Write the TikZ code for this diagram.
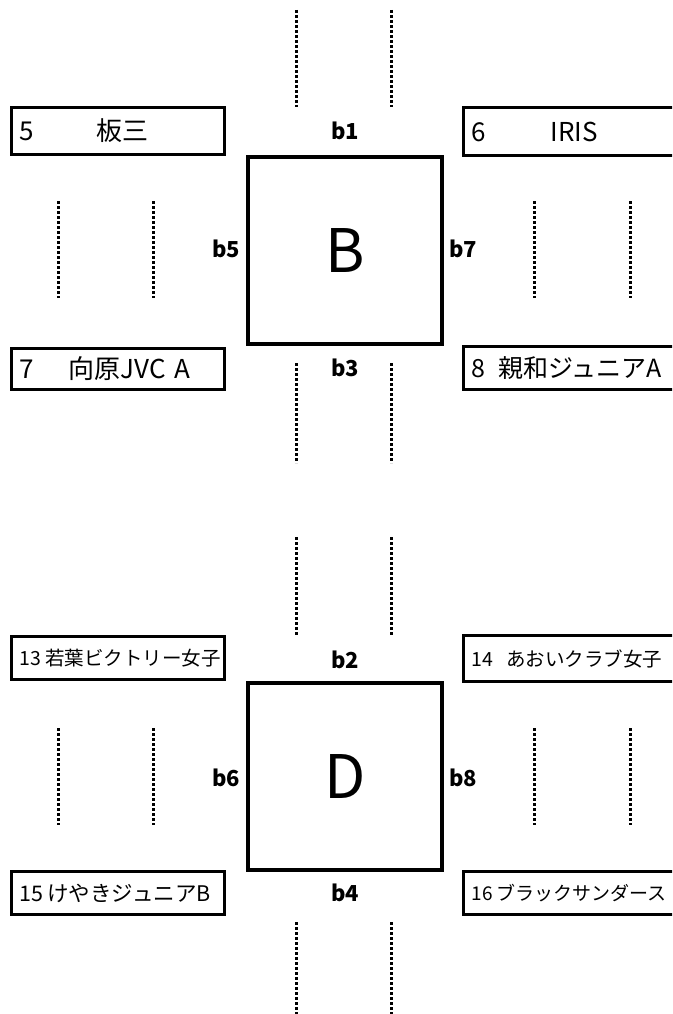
\documentclass[tikz,border=0pt]{standalone}
\usepackage{fontspec}
\setmainfont{Noto Sans CJK JP}
\usepackage{tikz}

\tikzset{
  court/.style={draw, line width=3.5pt, minimum width=194pt, minimum height=187pt,
    inner sep=0pt, font=\fontsize{60}{60}\selectfont},
  team/.style={draw, line width=3pt, anchor=north west, inner xsep=8pt, inner ysep=0pt,
    text width=197pt, align=left},
  side/.style={font=\bfseries\fontsize{22}{22}\selectfont},
  lane/.style={line width=3pt, dash pattern=on 3pt off 2pt},
}

\begin{document}
\begin{tikzpicture}[x=1pt, y=-1pt]
    \useasboundingbox (0,0) rectangle (672,1014);
    \clip (0,0) rectangle (672,1014);
    % Terrain B
    \node[court] (B) at (345,250.5) {B};
    \node[side] (b1) at (345,131) {b1};
    \node[side] (b3) at (345,368) {b3};
    \node[side] (b5) at (226,249) {b5};
    \node[side] (b7) at (463,249) {b7};
    % Equipes B
    \node[team, minimum height=47pt, font=\fontsize{26}{26}\selectfont] (t5) at (10,106) {\makebox[77pt][l]{5}板三};
    \node[team, minimum height=48pt, font=\fontsize{26}{26}\selectfont] (t6) at (462,106) {\makebox[79pt][l]{6}IRIS};
    \node[team, minimum height=41pt, font=\fontsize{26}{26}\selectfont] (t7) at (10,347) {\makebox[49pt][l]{7}向原JVC A};
    \node[team, minimum height=43pt, font=\fontsize{25}{25}\selectfont] (t8) at (462,345) {\makebox[27pt][l]{8}親和ジュニアA};
    % Lignes B
    \draw[lane] (296,10) -- (296,107);
    \draw[lane] (391,10) -- (391,107);
    \draw[lane] (58,201) -- (58,298);
    \draw[lane] (153,201) -- (153,298);
    \draw[lane] (534,201) -- (534,298);
    \draw[lane] (630,201) -- (630,298);
    \draw[lane] (296,363) -- (296,463);
    \draw[lane] (391,363) -- (391,463);
    % Terrain D
    \node[court] (D) at (345,776.5) {D};
    \node[side] (b2) at (345,660) {b2};
    \node[side] (b4) at (345,893) {b4};
    \node[side] (b6) at (226,778) {b6};
    \node[side] (b8) at (463,778) {b8};
    % Equipes D
    \node[team, minimum height=43pt, font=\fontsize{19.5}{20}\selectfont] (t13) at (10,635) {\makebox[26pt][l]{13}若葉ビクトリー女子};
    \node[team, minimum height=46pt, font=\fontsize{19.5}{20}\selectfont] (t14) at (462,634) {\makebox[35pt][l]{14}あおいクラブ女子};
    \node[team, minimum height=43pt, font=\fontsize{21.5}{22}\selectfont] (t15) at (10,870) {\makebox[28pt][l]{15}けやきジュニアB};
    \node[team, minimum height=43pt, font=\fontsize{19}{19}\selectfont] (t16) at (462,870) {\makebox[25pt][l]{16}ブラックサンダース};
    % Lignes D
    \draw[lane] (296,537) -- (296,635);
    \draw[lane] (391,537) -- (391,635);
    \draw[lane] (58,728) -- (58,825);
    \draw[lane] (153,728) -- (153,825);
    \draw[lane] (534,728) -- (534,825);
    \draw[lane] (630,728) -- (630,825);
    \draw[lane] (296,922) -- (296,1014);
    \draw[lane] (391,922) -- (391,1014);
\end{tikzpicture}
\end{document}
